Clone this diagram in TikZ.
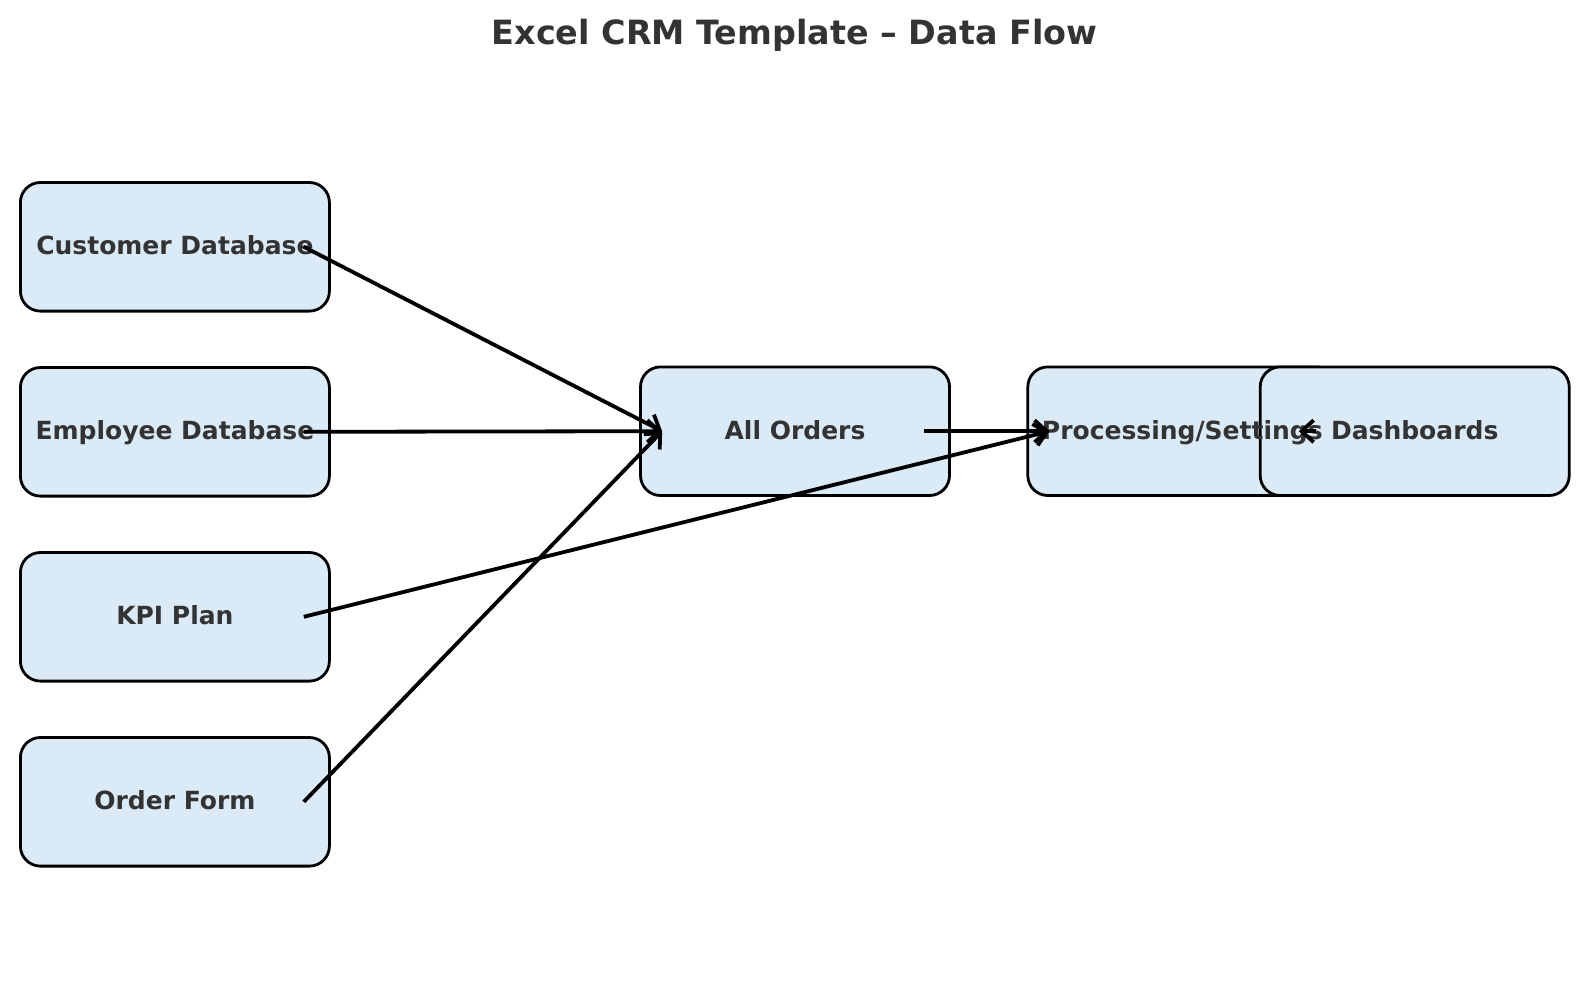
\documentclass[tikz,border=0pt]{standalone}
\usepackage{fontspec}
\setmainfont{DejaVu Sans}
\usetikzlibrary{arrows.meta,positioning}
\definecolor{boxblue}{RGB}{218,234,246}
\definecolor{textgray}{RGB}{51,51,51}

\tikzset{
    block/.style={draw=black, line width=1.4pt, fill=boxblue, rounded corners=10pt,
        minimum width=154.5pt, minimum height=64.3pt, inner sep=0pt},
    blocktext/.style={text=textgray, inner sep=0pt, text height=9.1pt, text depth=1pt,
        font=\bfseries\fontsize{12.5}{14}\selectfont},
    flow/.style={-{Straight Barb[length=6pt,width=11pt]}, line width=1.9pt, black}
}

\begin{document}
\begin{tikzpicture}[x=0.5pt, y=-0.5pt]
            \useasboundingbox (0,0) rectangle (1589,1006);
            \node[text=textgray, font=\bfseries\fontsize{16.7}{19}\selectfont] (title) at (794.5,35.5) {Excel CRM Template -- Data Flow};
            \node[block] (customer) at (174.9,246.8) {};
            \node[block, below=26.8pt of customer] (employee) {};
            \node[block, below=26.8pt of employee] (kpi) {};
            \node[block, below=26.8pt of kpi] (orderform) {};
            \node[block] (orders) at (795,431.2) {};
            \node[block] (processing) at (1182.3,431.2) {};
            \node[block] (dashboards) at (1414.7,431.2) {};
            \node[blocktext] (customertext) at (customer) {Customer Database};
            \node[blocktext] (employeetext) at (employee) {Employee Database};
            \node[blocktext] (kpitext) at (kpi) {KPI Plan};
            \node[blocktext] (orderformtext) at (orderform) {Order Form};
            \node[blocktext] (orderstext) at (orders) {All Orders};
            \node[blocktext] (processingtext) at (processing) {Processing/Settings};
            \node[blocktext] (dashboardstext) at (dashboards) {Dashboards};
            \draw[flow] ([xshift=-13.5pt]customer.east) -- ([xshift=11.5pt]orders.west);
            \draw[flow] ([xshift=-13.5pt]employee.east) -- ([xshift=11.5pt]orders.west);
            \draw[flow] ([xshift=-13.5pt]kpi.east) -- ([xshift=11.5pt]processing.west);
            \draw[flow] ([xshift=-13.5pt]orderform.east) -- ([xshift=11.5pt]orders.west);
            \draw[flow] ([xshift=-13.5pt]orders.east) -- ([xshift=11.5pt]processing.west);
            \draw[flow] ([xshift=-11pt]processing.east) -- ([xshift=20pt]dashboards.west);
        \end{tikzpicture}
\end{document}
